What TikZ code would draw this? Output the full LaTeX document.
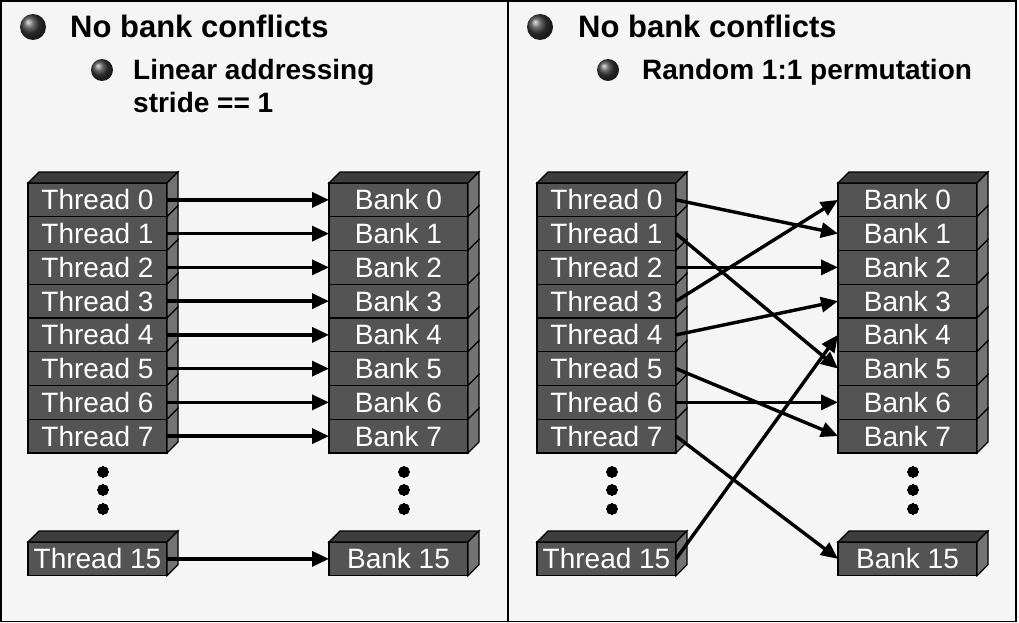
\documentclass[tikz,border=0pt]{standalone}
\usepackage{fontspec}
\setmainfont{Liberation Sans}
\usetikzlibrary{positioning, arrows.meta}

\definecolor{facegray}{gray}{0.33}
\definecolor{topgray}{gray}{0.24}
\definecolor{sidegray}{gray}{0.45}
\definecolor{paper}{gray}{0.96}

\tikzset{
  cell/.style={draw=black,line width=1.2pt,fill=facegray,text=white,minimum width=139pt,minimum height=33.75pt,inner sep=0pt,outer sep=0pt,font=\fontsize{28}{28}\selectfont},
  sideface/.style={draw=black,line width=1.2pt,fill=sidegray},
  lidface/.style={draw=black,line width=1.2pt,fill=topgray},
  link/.style={line width=3.4pt,-{Triangle[length=17pt,width=15pt]}},
  head/.style={anchor=base west,inner sep=0pt,font=\fontsize{31}{31}\selectfont\bfseries},
  subhead/.style={anchor=base west,inner sep=0pt,font=\fontsize{28}{28}\selectfont\bfseries},
  bullet/.style={ball color=gray!45!black}
}
\newcommand\cellside[1]{\draw[sideface] (#1.north east) -- ++(11,-11) -- ([shift={(11,-11)}]#1.south east) -- (#1.south east) -- cycle;}
\newcommand\celllid[1]{\draw[lidface] (#1.north west) -- ++(11,-11) -- ([shift={(11,-11)}]#1.north east) -- (#1.north east) -- cycle;}

\begin{document}
\begin{tikzpicture}[x=1pt,y=-1pt]
\useasboundingbox (0,0) rectangle (1019,623);
\fill[paper] (0,0) rectangle (1019,623);
\draw[line width=1.5pt] (1,1) rectangle (1016,621.5);
\draw[line width=1.5pt] (508,1) -- (508,621.5);

% headings
\shade[bullet] (33,27) circle (13pt);
\node[head] (lhead) at (70,38) {No bank conflicts};
\shade[bullet] (102,70) circle (11pt);
\node[subhead] (lsub) at (133,80) {Linear addressing};
\node[subhead] (lsub2) at (133,113) {stride == 1};
\shade[bullet] (540,27) circle (13pt);
\node[head] (rhead) at (578,38) {No bank conflicts};
\shade[bullet] (608,70) circle (11pt);
\node[subhead] (rsub) at (642,80) {Random 1:1 permutation};

% columns
\foreach \c/\x/\w in {lt/28/Thread,lb/329/Bank,rt/537/Thread,rb/838/Bank}{
  \node[cell,anchor=north west] (\c0) at (\x,183) {\w\ 0};
  \foreach \i[evaluate=\i as \p using int(\i-1)] in {1,...,7}
    \node[cell,below=0pt of \c\p] (\c\i) {\w\ \i};
  \node[cell,anchor=north west] (\c15) at (\x,542) {\w\ 15};
  \celllid{\c0}
  \celllid{\c15}
  \foreach \i in {0,...,7,15}
    \cellside{\c\i}
  \foreach \d in {19,37,56}
    \fill ([xshift=5.5pt,yshift=-\d pt]\c7.south) circle (5.5pt);
}

% connections
\foreach \i in {0,...,7,15}
  \draw[link] (lt\i.east) -- (lb\i.west);
\foreach \a/\b in {0/1,1/5,2/2,3/0,4/3,5/7,6/6,7/15,15/4}
  \draw[link] (rt\a.east) -- (rb\b.west);
\end{tikzpicture}
\end{document}
